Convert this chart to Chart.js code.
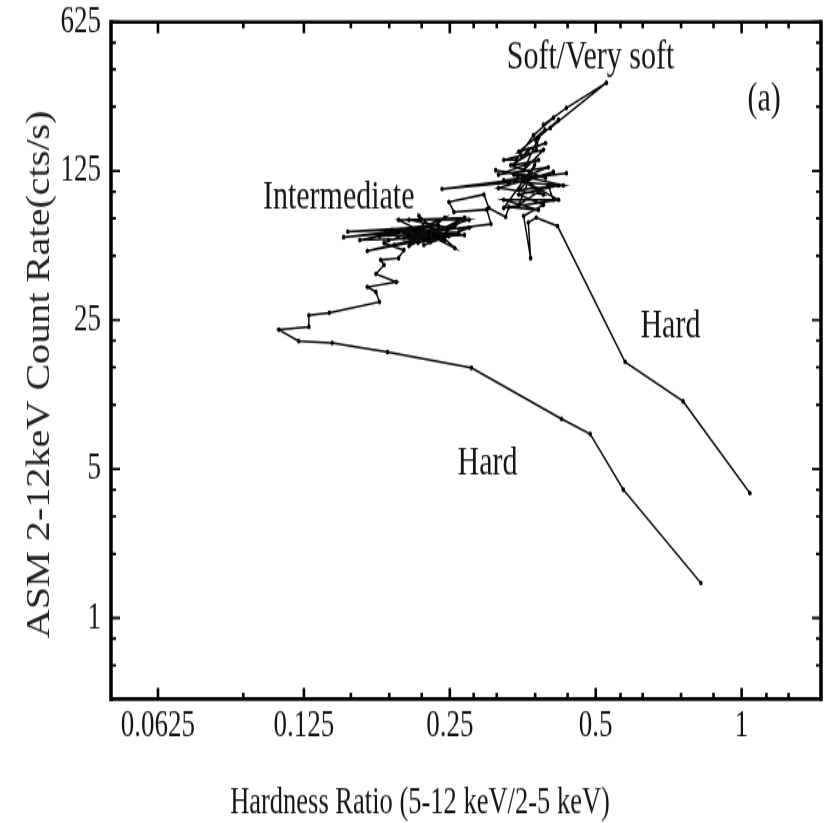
<!DOCTYPE html>
<html>
<head>
<meta charset="utf-8">
<title>Hardness-intensity diagram</title>
<script src="https://cdn.jsdelivr.net/npm/chart.js@4.4.1/dist/chart.umd.min.js"></script>
<style>
  html, body { margin: 0; padding: 0; background: #fff; overflow: hidden; }
  /* the figure is drawn at 825x588 and stretched to 823 px tall, like the scanned original */
  #chart { display: block; }
</style>
</head>
<body>
<canvas id="chart" width="825" height="588" style="width:825px;height:823px"></canvas>
<script>
// DATA  (hardness ratio, count rate) in time order
const hardness = [
  1.04, 0.757, 0.575, 0.417, 0.377, 0.363, 0.367, 0.355, 0.390, 0.347,
  0.419, 0.323, 0.435, 0.241, 0.331, 0.399, 0.315, 0.381, 0.339, 0.363,
  0.394, 0.347, 0.393, 0.376, 0.419, 0.403, 0.526, 0.435, 0.390, 0.409,
  0.372, 0.343, 0.323, 0.390, 0.355, 0.381, 0.377, 0.334, 0.394, 0.311,
  0.429, 0.347,
  0.363, 0.409, 0.315, 0.390, 0.339, 0.419, 0.323, 0.374, 0.347, 0.399,
  0.409, 0.323,
  0.381, 0.331, 0.326, 0.301, 0.294, 0.249, 0.255, 0.298, 0.304, 0.226,
  0.274, 0.206, 0.249, 0.151, 0.237, 0.154, 0.216, 0.179, 0.261, 0.187,
  0.232, 0.169, 0.221, 0.192, 0.237, 0.215, 0.245, 0.205, 0.228,
  0.256, 0.201, 0.268, 0.212, 0.244, 0.196, 0.274, 0.221, 0.249, 0.190,
  0.236, 0.163, 0.226, 0.216, 0.256, 0.196, 0.268, 0.206, 0.244, 0.183,
  0.201,
  0.196, 0.180, 0.183, 0.176, 0.194, 0.169, 0.176, 0.179, 0.141, 0.128,
  0.128, 0.111, 0.122, 0.143, 0.186, 0.277, 0.425, 0.487, 0.570, 0.824
];
const rate = [
  3.86, 10.4, 15.9, 69.0, 75.5, 71.7, 48.8, 77.0, 86.7, 97,
  107, 113, 122, 103, 110, 130, 120, 141, 133, 157,
  169, 154, 195, 175, 217, 199, 324, 247, 206, 222,
  184, 141, 141, 157, 126, 179, 157, 133, 116, 126,
  107, 102,
  113, 124, 104, 97, 120, 91.5, 83.8, 133, 86.7, 107,
  91.5, 91.5,
  82, 84.7, 76, 83.8, 97, 89.5, 80.3, 82.5, 70.5, 64.7,
  73.7, 73.7, 67.6, 61.2, 69.0, 64.9, 66.8, 61.9, 64.7, 59.3,
  62.6, 52.7, 59.3, 56.2, 60.6, 57.5, 63.0, 62.0, 58.0,
  69.0, 60.6, 62.6, 66.1, 59.3, 64.7, 67.6, 56.2, 61.9, 66.1,
  70.5, 59.3, 60.6, 77.0, 54.4, 73.7, 75.5, 55.6, 75.5, 57.4,
  53.2,
  48.8, 47.8, 45.3, 41.1, 37.7, 35.7, 33.8, 30.4, 27.0, 26.3,
  23.2, 22.5, 19.9, 19.5, 17.7, 14.9, 8.6, 7.3, 4.0, 1.46
];

// AXES
const xTicks = [0.0625, 0.125, 0.25, 0.5, 1];
const xTickLabels = ["0.0625", "0.125", "0.25", "0.5", "1"];
const xMinor = [0.09375, 0.15625, 0.1875, 0.21875, 0.28, 0.3125, 0.375, 0.4375,
  0.5625, 0.625, 0.75, 0.875, 1.125, 1.25];
const yTicks = [1, 5, 25, 125, 625];
const yTickLabels = ["1", "5", "25", "125", "625"];
const yMinor = [0.6, 0.8, 2, 3, 4, 10, 15, 20, 50, 75, 100, 250, 375, 500];
const xTitle = "Hardness Ratio (5-12 keV/2-5 keV)";
const yTitle = "ASM 2-12keV Count Rate(cts/s)";

// LABELS written on the plot
const noteText = ["Soft/Very soft", "(a)", "Intermediate", "Hard", "Hard"];
const noteX = [0.488, 1.113, 0.1475, 0.713, 0.299];
const noteY = [428, 269, 93.4, 23.2, 5.33];

const serif = "'Liberation Serif', 'Times New Roman', serif";
const ink = "#151515";

// frame with ticks pointing inwards on all four sides, plus the axis titles
const frameTicks = {
  id: "frameTicks",
  afterDraw(chart) {
    const { ctx, chartArea: a, scales: { x, y } } = chart;
    ctx.save();
    ctx.strokeStyle = "#000";

    ctx.lineWidth = 2.6;
    xTicks.concat(xMinor).forEach(v => {
      const px = x.getPixelForValue(v);
      const len = xTicks.includes(v) ? 8 : 4.5;
      ctx.beginPath();
      ctx.moveTo(px, a.bottom); ctx.lineTo(px, a.bottom - len);
      ctx.moveTo(px, a.top); ctx.lineTo(px, a.top + len);
      ctx.stroke();
    });

    ctx.lineWidth = 1.9;
    yTicks.concat(yMinor).forEach(v => {
      const py = y.getPixelForValue(v);
      const len = yTicks.includes(v) ? 9 : 5;
      ctx.beginPath();
      ctx.moveTo(a.left, py); ctx.lineTo(a.left + len, py);
      ctx.moveTo(a.right, py); ctx.lineTo(a.right - len, py);
      ctx.stroke();
    });

    // vertical sides
    ctx.lineWidth = 3.5;
    ctx.beginPath();
    ctx.moveTo(a.left, a.top - 1.5); ctx.lineTo(a.left, a.bottom + 1.5);
    ctx.moveTo(a.right, a.top - 1.5); ctx.lineTo(a.right, a.bottom + 1.5);
    ctx.stroke();
    // horizontal sides
    ctx.lineWidth = 2.6;
    ctx.beginPath();
    ctx.moveTo(a.left, a.top); ctx.lineTo(a.right, a.top);
    ctx.moveTo(a.left, a.bottom); ctx.lineTo(a.right, a.bottom);
    ctx.stroke();

    // axis titles, placed as in the original (x title sits left of the plot centre)
    ctx.fillStyle = ink;
    ctx.textAlign = "center";
    ctx.textBaseline = "middle";
    ctx.font = "26.5px " + serif;
    ctx.fillText(xTitle, 420, 574);

    ctx.fillStyle = "#222";
    ctx.translate(40, 267.5);
    ctx.rotate(-Math.PI / 2);
    ctx.scale(0.87, 1);
    ctx.font = "33px " + serif;
    ctx.fillText(yTitle, 0, 0);
    ctx.restore();
  }
};

const notes = {
  id: "notes",
  afterDatasetsDraw(chart) {
    const { ctx, scales: { x, y } } = chart;
    ctx.save();
    ctx.fillStyle = ink;
    ctx.font = "30px " + serif;
    ctx.textAlign = "center";
    ctx.textBaseline = "middle";
    noteText.forEach((t, i) => {
      ctx.fillText(t, x.getPixelForValue(noteX[i]), y.getPixelForValue(noteY[i]));
    });
    ctx.restore();
  }
};

const points = hardness.map((h, i) => ({ x: h, y: rate[i] }));

new Chart(document.getElementById("chart"), {
  type: "scatter",
  data: {
    datasets: [{
      data: points,
      showLine: true,
      borderColor: "#0a0a0a",
      borderWidth: 1.5,
      backgroundColor: "#000",
      pointRadius: 1.8,
      pointBorderWidth: 0,
      tension: 0
    }]
  },
  options: {
    responsive: false,
    devicePixelRatio: 1,
    animation: false,
    layout: { padding: { top: 15.7, right: 3, left: 0, bottom: 0 } },
    plugins: { legend: { display: false }, tooltip: { enabled: false } },
    scales: {
      x: {
        type: "logarithmic",
        min: 0.05,
        max: 1.458,
        grid: { display: false, drawTicks: false },
        border: { display: false },
        afterBuildTicks: s => { s.ticks = xTicks.map(v => ({ value: v })); },
        afterFit: s => { s.height = 88.6; s.paddingLeft = 0; s.paddingRight = 0; },
        ticks: {
          autoSkip: false,
          maxRotation: 0,
          padding: 6,
          color: ink,
          font: { family: serif, size: 27, lineHeight: 1 },
          callback: v => xTickLabels[xTicks.indexOf(v)]
        }
      },
      y: {
        type: "logarithmic",
        min: 0.417,
        max: 625,
        grid: { display: false, drawTicks: false },
        border: { display: false },
        afterBuildTicks: s => { s.ticks = yTicks.map(v => ({ value: v })); },
        afterFit: s => { s.width = 111; s.paddingTop = 0; s.paddingBottom = 0; },
        ticks: {
          autoSkip: false,
          padding: 10,
          color: ink,
          font: { family: serif, size: 27, lineHeight: 1 },
          callback: v => yTickLabels[yTicks.indexOf(v)]
        }
      }
    }
  },
  plugins: [notes, frameTicks]
});
</script>
</body>
</html>
